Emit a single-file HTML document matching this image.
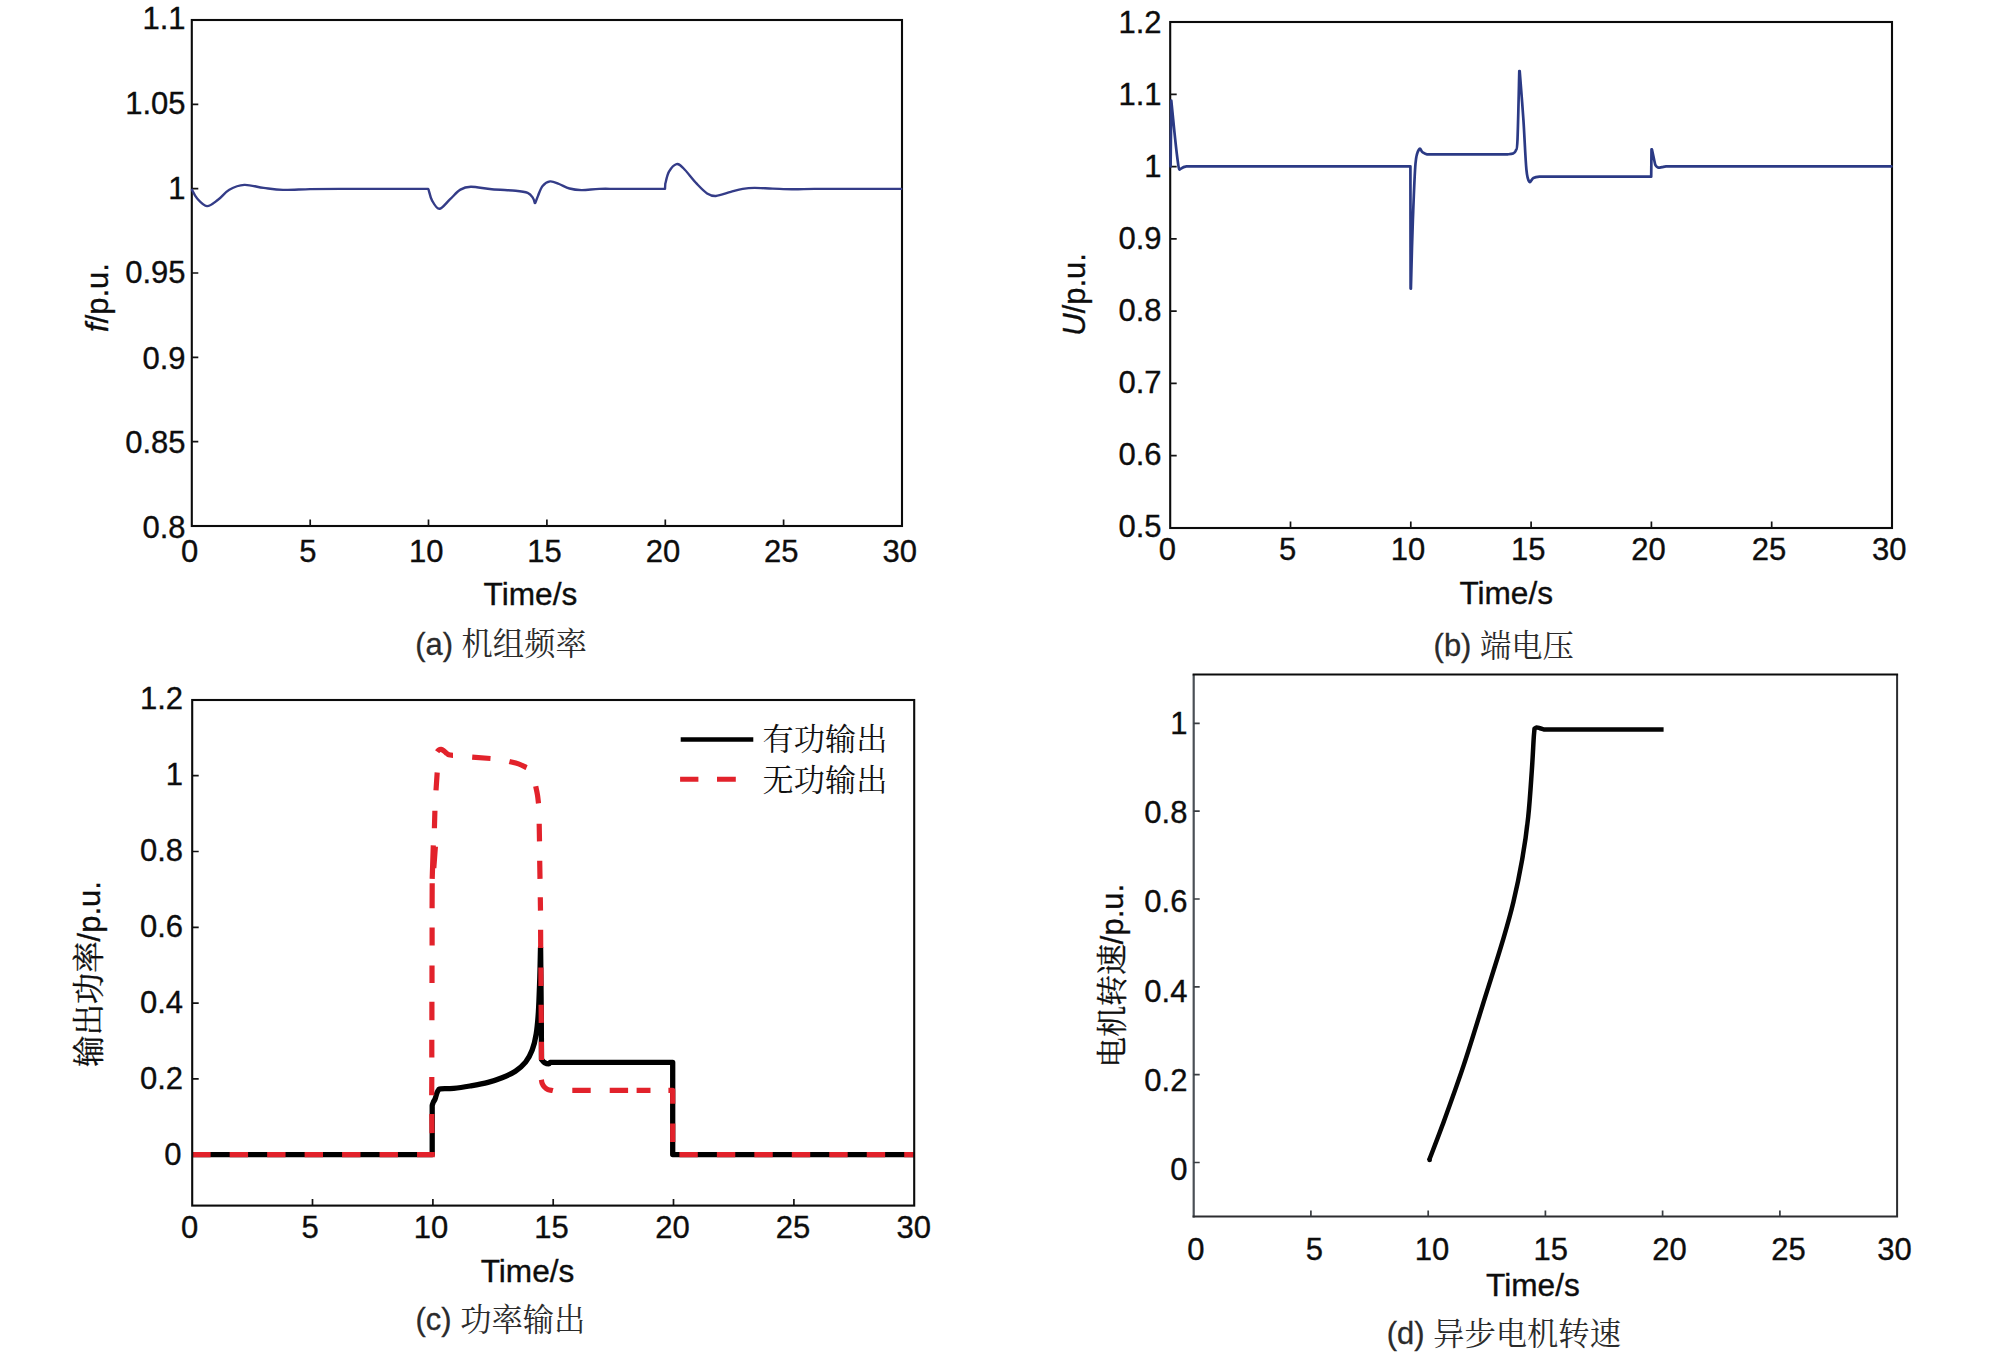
<!DOCTYPE html>
<html lang="zh-CN"><head><meta charset="utf-8"><title>仿真结果</title>
<style>html,body{margin:0;padding:0;background:#fff;}body{width:2006px;height:1355px;overflow:hidden;}svg{display:block;}text{white-space:pre;}</style>
</head><body>
<svg width="2006" height="1355" viewBox="0 0 2006 1355">
<rect width="2006" height="1355" fill="#fff"/>
<g id="chart-a">
<rect x="191.8" y="20" width="710.2" height="506" fill="none" stroke="#0b0b0b" stroke-width="2.1"/>
<path d="M310.2 526 v-6.5 M428.5 526 v-6.5 M546.9 526 v-6.5 M665.3 526 v-6.5 M783.6 526 v-6.5 M191.8 441.7 h6.5 M191.8 357.3 h6.5 M191.8 273 h6.5 M191.8 188.7 h6.5 M191.8 104.3 h6.5" stroke="#141414" stroke-width="1.7" fill="none"/>
<text transform="translate(189.5 561.6) scale(1.0 1)" font-size="31.0" text-anchor="middle" font-family='"Liberation Sans", "Noto Sans CJK SC", sans-serif' fill="#0d0d0d" stroke="#0d0d0d" stroke-width="0.35">0</text>
<text transform="translate(307.9 561.6) scale(1.0 1)" font-size="31.0" text-anchor="middle" font-family='"Liberation Sans", "Noto Sans CJK SC", sans-serif' fill="#0d0d0d" stroke="#0d0d0d" stroke-width="0.35">5</text>
<text transform="translate(426.2 561.6) scale(1.0 1)" font-size="31.0" text-anchor="middle" font-family='"Liberation Sans", "Noto Sans CJK SC", sans-serif' fill="#0d0d0d" stroke="#0d0d0d" stroke-width="0.35">10</text>
<text transform="translate(544.6 561.6) scale(1.0 1)" font-size="31.0" text-anchor="middle" font-family='"Liberation Sans", "Noto Sans CJK SC", sans-serif' fill="#0d0d0d" stroke="#0d0d0d" stroke-width="0.35">15</text>
<text transform="translate(663 561.6) scale(1.0 1)" font-size="31.0" text-anchor="middle" font-family='"Liberation Sans", "Noto Sans CJK SC", sans-serif' fill="#0d0d0d" stroke="#0d0d0d" stroke-width="0.35">20</text>
<text transform="translate(781.3 561.6) scale(1.0 1)" font-size="31.0" text-anchor="middle" font-family='"Liberation Sans", "Noto Sans CJK SC", sans-serif' fill="#0d0d0d" stroke="#0d0d0d" stroke-width="0.35">25</text>
<text transform="translate(899.7 561.6) scale(1.0 1)" font-size="31.0" text-anchor="middle" font-family='"Liberation Sans", "Noto Sans CJK SC", sans-serif' fill="#0d0d0d" stroke="#0d0d0d" stroke-width="0.35">30</text>
<text transform="translate(185.5 538) scale(1.0 1)" font-size="31.0" text-anchor="end" font-family='"Liberation Sans", "Noto Sans CJK SC", sans-serif' fill="#0d0d0d" stroke="#0d0d0d" stroke-width="0.35">0.8</text>
<text transform="translate(185.5 453.3) scale(1.0 1)" font-size="31.0" text-anchor="end" font-family='"Liberation Sans", "Noto Sans CJK SC", sans-serif' fill="#0d0d0d" stroke="#0d0d0d" stroke-width="0.35">0.85</text>
<text transform="translate(185.5 368.5) scale(1.0 1)" font-size="31.0" text-anchor="end" font-family='"Liberation Sans", "Noto Sans CJK SC", sans-serif' fill="#0d0d0d" stroke="#0d0d0d" stroke-width="0.35">0.9</text>
<text transform="translate(185.5 283) scale(1.0 1)" font-size="31.0" text-anchor="end" font-family='"Liberation Sans", "Noto Sans CJK SC", sans-serif' fill="#0d0d0d" stroke="#0d0d0d" stroke-width="0.35">0.95</text>
<text transform="translate(185.5 198.6) scale(1.0 1)" font-size="31.0" text-anchor="end" font-family='"Liberation Sans", "Noto Sans CJK SC", sans-serif' fill="#0d0d0d" stroke="#0d0d0d" stroke-width="0.35">1</text>
<text transform="translate(185.5 114.2) scale(1.0 1)" font-size="31.0" text-anchor="end" font-family='"Liberation Sans", "Noto Sans CJK SC", sans-serif' fill="#0d0d0d" stroke="#0d0d0d" stroke-width="0.35">1.05</text>
<text transform="translate(185.5 29) scale(1.0 1)" font-size="31.0" text-anchor="end" font-family='"Liberation Sans", "Noto Sans CJK SC", sans-serif' fill="#0d0d0d" stroke="#0d0d0d" stroke-width="0.35">1.1</text>
<path d="M192 189.5 C192.8 190.9 194.5 195.3 197 198 C199.5 200.7 203.4 205.6 206.9 205.8 C210.4 206.1 214.3 202.2 218 199.5 C221.7 196.8 224.9 192 229.3 189.5 C233.7 187 238.6 184.9 244.3 184.6 C250 184.3 257.2 186.8 263.7 187.6 C270.1 188.4 275.3 189.4 283 189.6 C290.7 189.8 300.5 189 310 188.8 C319.5 188.6 320.3 188.6 340 188.6 C359.7 188.6 413.5 188.6 428.2 188.6 L428.6 189.5 C429.2 191.2 430.2 196.8 432 200 C433.8 203.2 436.4 208.7 439.4 208.5 C442.4 208.3 446.4 202.3 449.9 199.1 C453.4 195.9 456.9 191.4 460.4 189.3 C463.9 187.2 465.6 186.5 470.8 186.4 C476 186.3 484.3 188.3 491.8 189 C499.3 189.7 509.7 189.8 515.7 190.4 C521.7 191 524.8 191.4 527.7 192.6 C530.6 193.8 531.7 195.9 532.9 197.6 C534.1 199.3 534.5 201.9 534.8 202.8 L535.2 202.8 C535.7 201.6 536.9 198.2 538.1 195.3 C539.3 192.4 540.6 188 542.6 185.6 C544.6 183.2 547.4 181.4 550.1 181.1 C552.9 180.8 555.9 182.5 559.1 183.7 C562.3 184.9 565.8 187.2 569.5 188.2 C573.2 189.2 576.5 189.7 581.5 189.8 C586.5 189.9 593 188.8 599.4 188.6 C605.8 188.4 609.1 188.6 620 188.6 C630.9 188.6 657.5 188.6 665 188.6 L665.3 183.4 C665.9 181.4 667.1 174.7 669 171.4 C670.9 168.2 674.1 164.5 676.5 163.9 C678.9 163.3 679.8 164.4 683.2 167.7 C686.6 170.9 692.7 179.2 696.7 183.4 C700.7 187.6 703.9 191.1 707.1 193.1 C710.3 195.1 711.8 195.9 715.8 195.7 C719.8 195.4 726.3 192.8 730.8 191.6 C735.3 190.4 738.7 189.3 742.7 188.6 C746.7 187.9 749.7 187.6 754.7 187.6 C759.7 187.6 766.4 188.1 772.6 188.3 C778.8 188.5 785 188.9 792 189 C799 189.1 804.8 188.7 814.5 188.6 C824.2 188.5 835.5 188.6 850 188.6 C864.5 188.6 892.7 188.6 901.2 188.6" fill="none" stroke="#343c88" stroke-width="2.4" stroke-linejoin="round" stroke-linecap="round" transform="translate(0 0.3)"/>
<text transform="translate(530.4 605.4) scale(1.02 1)" font-size="31.0" text-anchor="middle" font-family='"Liberation Sans", "Noto Sans CJK SC", sans-serif' fill="#0d0d0d" stroke="#0d0d0d" stroke-width="0.35">Time/s</text>
<text transform="translate(107.6 297.5) scale(1.0 1) rotate(-90)" font-size="31.0" text-anchor="middle" font-family='"Liberation Sans", "Noto Sans CJK SC", sans-serif' fill="#0d0d0d" stroke="#0d0d0d" stroke-width="0.35"><tspan font-style="italic">f</tspan>/p.u.</text>
<text x="415.2" y="654.5" font-size="30.9" font-family='"Liberation Sans", "Noto Sans CJK SC", sans-serif' fill="#2b2b2b"><tspan stroke="#2b2b2b" stroke-width="0.3">(a)</tspan> <tspan font-family='"Liberation Serif", "Noto Serif CJK SC", serif' font-size="31.3" dy="0.6">机组频率</tspan></text>
</g>
<g id="chart-b">
<rect x="1170.2" y="22" width="721.8" height="506" fill="none" stroke="#0b0b0b" stroke-width="2.1"/>
<path d="M1290.5 528 v-6.5 M1410.8 528 v-6.5 M1531.1 528 v-6.5 M1651.4 528 v-6.5 M1771.7 528 v-6.5 M1170.2 455.7 h6.5 M1170.2 383.4 h6.5 M1170.2 311.1 h6.5 M1170.2 238.9 h6.5 M1170.2 166.6 h6.5 M1170.2 94.3 h6.5" stroke="#141414" stroke-width="1.7" fill="none"/>
<text transform="translate(1167.4 559.9) scale(1.0 1)" font-size="31.0" text-anchor="middle" font-family='"Liberation Sans", "Noto Sans CJK SC", sans-serif' fill="#0d0d0d" stroke="#0d0d0d" stroke-width="0.35">0</text>
<text transform="translate(1287.7 559.9) scale(1.0 1)" font-size="31.0" text-anchor="middle" font-family='"Liberation Sans", "Noto Sans CJK SC", sans-serif' fill="#0d0d0d" stroke="#0d0d0d" stroke-width="0.35">5</text>
<text transform="translate(1408 559.9) scale(1.0 1)" font-size="31.0" text-anchor="middle" font-family='"Liberation Sans", "Noto Sans CJK SC", sans-serif' fill="#0d0d0d" stroke="#0d0d0d" stroke-width="0.35">10</text>
<text transform="translate(1528.3 559.9) scale(1.0 1)" font-size="31.0" text-anchor="middle" font-family='"Liberation Sans", "Noto Sans CJK SC", sans-serif' fill="#0d0d0d" stroke="#0d0d0d" stroke-width="0.35">15</text>
<text transform="translate(1648.6 559.9) scale(1.0 1)" font-size="31.0" text-anchor="middle" font-family='"Liberation Sans", "Noto Sans CJK SC", sans-serif' fill="#0d0d0d" stroke="#0d0d0d" stroke-width="0.35">20</text>
<text transform="translate(1768.9 559.9) scale(1.0 1)" font-size="31.0" text-anchor="middle" font-family='"Liberation Sans", "Noto Sans CJK SC", sans-serif' fill="#0d0d0d" stroke="#0d0d0d" stroke-width="0.35">25</text>
<text transform="translate(1889.2 559.9) scale(1.0 1)" font-size="31.0" text-anchor="middle" font-family='"Liberation Sans", "Noto Sans CJK SC", sans-serif' fill="#0d0d0d" stroke="#0d0d0d" stroke-width="0.35">30</text>
<text transform="translate(1161.6 536.8) scale(1.0 1)" font-size="31.0" text-anchor="end" font-family='"Liberation Sans", "Noto Sans CJK SC", sans-serif' fill="#0d0d0d" stroke="#0d0d0d" stroke-width="0.35">0.5</text>
<text transform="translate(1161.6 464.8) scale(1.0 1)" font-size="31.0" text-anchor="end" font-family='"Liberation Sans", "Noto Sans CJK SC", sans-serif' fill="#0d0d0d" stroke="#0d0d0d" stroke-width="0.35">0.6</text>
<text transform="translate(1161.6 392.7) scale(1.0 1)" font-size="31.0" text-anchor="end" font-family='"Liberation Sans", "Noto Sans CJK SC", sans-serif' fill="#0d0d0d" stroke="#0d0d0d" stroke-width="0.35">0.7</text>
<text transform="translate(1161.6 320.7) scale(1.0 1)" font-size="31.0" text-anchor="end" font-family='"Liberation Sans", "Noto Sans CJK SC", sans-serif' fill="#0d0d0d" stroke="#0d0d0d" stroke-width="0.35">0.8</text>
<text transform="translate(1161.6 248.7) scale(1.0 1)" font-size="31.0" text-anchor="end" font-family='"Liberation Sans", "Noto Sans CJK SC", sans-serif' fill="#0d0d0d" stroke="#0d0d0d" stroke-width="0.35">0.9</text>
<text transform="translate(1161.6 176.7) scale(1.0 1)" font-size="31.0" text-anchor="end" font-family='"Liberation Sans", "Noto Sans CJK SC", sans-serif' fill="#0d0d0d" stroke="#0d0d0d" stroke-width="0.35">1</text>
<text transform="translate(1161.6 104.6) scale(1.0 1)" font-size="31.0" text-anchor="end" font-family='"Liberation Sans", "Noto Sans CJK SC", sans-serif' fill="#0d0d0d" stroke="#0d0d0d" stroke-width="0.35">1.1</text>
<text transform="translate(1161.6 32.6) scale(1.0 1)" font-size="31.0" text-anchor="end" font-family='"Liberation Sans", "Noto Sans CJK SC", sans-serif' fill="#0d0d0d" stroke="#0d0d0d" stroke-width="0.35">1.2</text>
<path d="M1170.6 166.5 L1171.3 100.6 C1173.5 122 1175.5 145 1177.6 160 C1178.3 166 1178.8 169 1179.5 169.6 C1181 168.6 1183 166.6 1186.5 166.3 L1410.4 166.3 L1410.6 288.6 L1410.9 288.6 C1411.2 277.1 1412.1 240.2 1412.9 219.3 C1413.7 198.5 1414.5 175.2 1415.5 163.5 C1416.5 151.8 1418 151.1 1419.2 149.2 C1420.4 147.3 1421.2 151.3 1422.5 152.2 C1423.8 153 1424.9 154 1427 154.3 C1429.1 154.7 1433.7 154.3 1435 154.3 L1507.5 154.3 L1507.5 154.3 C1508.4 154.2 1511.6 154.2 1513 153.6 C1514.4 153 1515 152.8 1515.8 150.5 C1516.5 148.2 1516.9 152.8 1517.5 139.6 C1518.1 126.3 1519 82.4 1519.3 71 L1519.7 71 C1520.3 79.1 1522.3 103.3 1523.4 119.7 C1524.5 136.1 1525.4 159.2 1526.4 169.5 C1527.4 179.8 1528.2 180.4 1529.4 181.8 C1530.6 183.2 1531.7 178.8 1533.4 178 C1535.1 177.2 1537.1 176.9 1539.5 176.7 C1541.9 176.5 1546.6 176.7 1548 176.7 L1651.2 176.7 L1651.5 149.4 L1651.9 149.4 C1652.3 151.2 1653.6 157.3 1654.2 160 C1654.8 162.7 1654.9 164.1 1655.6 165.4 C1656.3 166.7 1657.2 167.3 1658.3 167.6 C1659.4 167.9 1660.7 167.3 1662 167.1 C1663.3 166.9 1664.3 166.5 1666 166.4 C1667.7 166.3 1671 166.4 1672 166.4 L1891.4 166.4" fill="none" stroke="#2b3a85" stroke-width="2.7" stroke-linejoin="round" stroke-linecap="round"/>
<text transform="translate(1506.2 603.5) scale(1.02 1)" font-size="31.0" text-anchor="middle" font-family='"Liberation Sans", "Noto Sans CJK SC", sans-serif' fill="#0d0d0d" stroke="#0d0d0d" stroke-width="0.35">Time/s</text>
<text transform="translate(1084.9 294.4) scale(1.0 1) rotate(-90)" font-size="31.0" text-anchor="middle" font-family='"Liberation Sans", "Noto Sans CJK SC", sans-serif' fill="#0d0d0d" stroke="#0d0d0d" stroke-width="0.35"><tspan font-style="italic">U</tspan>/p.u.</text>
<text x="1433.6" y="656.2" font-size="30.9" font-family='"Liberation Sans", "Noto Sans CJK SC", sans-serif' fill="#2b2b2b"><tspan stroke="#2b2b2b" stroke-width="0.3">(b)</tspan> <tspan font-family='"Liberation Serif", "Noto Serif CJK SC", serif' font-size="31.3" dy="0.6">端电压</tspan></text>
</g>
<g id="chart-c">
<path d="M312.5 1205.6 v-6.5 M432.9 1205.6 v-6.5 M553.2 1205.6 v-6.5 M673.5 1205.6 v-6.5 M793.9 1205.6 v-6.5 M192.2 1154.7 h6.5 M192.2 1078.9 h6.5 M192.2 1003.1 h6.5 M192.2 927.3 h6.5 M192.2 851.5 h6.5 M192.2 775.7 h6.5" stroke="#141414" stroke-width="1.7" fill="none"/>
<text transform="translate(189.5 1237.7) scale(1.0 1)" font-size="31.0" text-anchor="middle" font-family='"Liberation Sans", "Noto Sans CJK SC", sans-serif' fill="#0d0d0d" stroke="#0d0d0d" stroke-width="0.35">0</text>
<text transform="translate(310.2 1237.7) scale(1.0 1)" font-size="31.0" text-anchor="middle" font-family='"Liberation Sans", "Noto Sans CJK SC", sans-serif' fill="#0d0d0d" stroke="#0d0d0d" stroke-width="0.35">5</text>
<text transform="translate(430.9 1237.7) scale(1.0 1)" font-size="31.0" text-anchor="middle" font-family='"Liberation Sans", "Noto Sans CJK SC", sans-serif' fill="#0d0d0d" stroke="#0d0d0d" stroke-width="0.35">10</text>
<text transform="translate(551.6 1237.7) scale(1.0 1)" font-size="31.0" text-anchor="middle" font-family='"Liberation Sans", "Noto Sans CJK SC", sans-serif' fill="#0d0d0d" stroke="#0d0d0d" stroke-width="0.35">15</text>
<text transform="translate(672.4 1237.7) scale(1.0 1)" font-size="31.0" text-anchor="middle" font-family='"Liberation Sans", "Noto Sans CJK SC", sans-serif' fill="#0d0d0d" stroke="#0d0d0d" stroke-width="0.35">20</text>
<text transform="translate(793.1 1237.7) scale(1.0 1)" font-size="31.0" text-anchor="middle" font-family='"Liberation Sans", "Noto Sans CJK SC", sans-serif' fill="#0d0d0d" stroke="#0d0d0d" stroke-width="0.35">25</text>
<text transform="translate(913.8 1237.7) scale(1.0 1)" font-size="31.0" text-anchor="middle" font-family='"Liberation Sans", "Noto Sans CJK SC", sans-serif' fill="#0d0d0d" stroke="#0d0d0d" stroke-width="0.35">30</text>
<text transform="translate(181.5 1165.3) scale(1.0 1)" font-size="31.0" text-anchor="end" font-family='"Liberation Sans", "Noto Sans CJK SC", sans-serif' fill="#0d0d0d" stroke="#0d0d0d" stroke-width="0.35">0</text>
<text transform="translate(183 1089.3) scale(1.0 1)" font-size="31.0" text-anchor="end" font-family='"Liberation Sans", "Noto Sans CJK SC", sans-serif' fill="#0d0d0d" stroke="#0d0d0d" stroke-width="0.35">0.2</text>
<text transform="translate(183 1013.2) scale(1.0 1)" font-size="31.0" text-anchor="end" font-family='"Liberation Sans", "Noto Sans CJK SC", sans-serif' fill="#0d0d0d" stroke="#0d0d0d" stroke-width="0.35">0.4</text>
<text transform="translate(183 937.2) scale(1.0 1)" font-size="31.0" text-anchor="end" font-family='"Liberation Sans", "Noto Sans CJK SC", sans-serif' fill="#0d0d0d" stroke="#0d0d0d" stroke-width="0.35">0.6</text>
<text transform="translate(183 861.1) scale(1.0 1)" font-size="31.0" text-anchor="end" font-family='"Liberation Sans", "Noto Sans CJK SC", sans-serif' fill="#0d0d0d" stroke="#0d0d0d" stroke-width="0.35">0.8</text>
<text transform="translate(183 785.1) scale(1.0 1)" font-size="31.0" text-anchor="end" font-family='"Liberation Sans", "Noto Sans CJK SC", sans-serif' fill="#0d0d0d" stroke="#0d0d0d" stroke-width="0.35">1</text>
<text transform="translate(183 709.1) scale(1.0 1)" font-size="31.0" text-anchor="end" font-family='"Liberation Sans", "Noto Sans CJK SC", sans-serif' fill="#0d0d0d" stroke="#0d0d0d" stroke-width="0.35">1.2</text>
<path d="M192.2 1154.6 L432.2 1154.6 L432.2 1105.5 L432.2 1105.5 C432.4 1104.9 432.9 1103.1 433.4 1102 C433.9 1100.9 434.5 1100.6 435.1 1099 C435.7 1097.4 436.5 1094 437.1 1092.5 C437.7 1091 438 1090.4 438.6 1089.8 C439.2 1089.2 438.2 1089 440.7 1088.8 C443.2 1088.6 448.8 1088.9 453.7 1088.4 C458.6 1087.9 464.3 1087 470 1086 C475.7 1085 482.7 1083.8 488 1082.4 C493.3 1081 497.4 1079.7 502 1077.8 C506.6 1075.9 511.5 1073.8 515.4 1071.2 C519.3 1068.6 522.8 1065.7 525.6 1062.2 C528.4 1058.7 530.4 1054.7 532.2 1050 C534 1045.3 535.2 1040.3 536.2 1034 C537.2 1027.7 537.8 1021.3 538.4 1012 C539 1002.7 539.4 988.7 539.8 978 C540.1 967.3 540.4 953 540.5 948 L540.6 948 C540.7 958.3 541.1 991.4 541.2 1010 C541.4 1028.6 541.5 1051.2 541.5 1059.5 L541.5 1059.5 C542 1060 543.3 1061.9 544.5 1062.6 C545.7 1063.3 547.7 1063.9 548.7 1063.9 C549.7 1063.9 549.3 1062.7 550.5 1062.4 C551.7 1062.2 555.1 1062.4 556 1062.4 L672.7 1062.4 L672.7 1154.6 L914.2 1154.6" fill="none" stroke="#000" stroke-width="5.3" stroke-linejoin="round"/>
<path d="M192.2 1154.6 H434.8" fill="none" stroke="#e2222b" stroke-width="5.2" stroke-dasharray="18.4 19.07"/>
<path d="M672.7 1154.6 H914.2" fill="none" stroke="#e2222b" stroke-width="5.2" stroke-dasharray="18.4 19.07" stroke-dashoffset="30.77"/>
<path d="M432 1133.1 L431.8 1114 M431.7 1095.3 L431.8 1077.1 M431.8 1057.5 L431.8 1039.8 M431.9 1020.3 L431.9 1001.7 M432 983.1 L432 965.4 M432.1 945.6 L432.1 927.4 M432.1 908.2 L432.2 883.3 M432.2 878.9 L433.3 845.4 M434.4 828.2 L434.9 810.7 M436 790.4 L437.2 772.5 M435.4 846.5 L433.8 868 M437.2 751.8 C437.4 751.5 438 750.6 438.6 750.2 C439.2 749.8 440.2 749.3 441 749.4 C441.8 749.5 442.7 750 443.5 750.6 C444.3 751.2 445.2 752.2 446 752.8 C446.8 753.4 447.2 753.9 448 754.3 C448.8 754.7 449.7 754.9 450.5 755.1 C451.3 755.3 452.6 755.3 453 755.3 M472.2 757.1 L490.5 758.5 M509.4 761.6 C510.9 762 515.6 762.9 518.5 763.9 C521.4 764.9 525.2 767 526.6 767.6 M535.7 786.2 C536 787.6 536.9 791.6 537.4 794.5 C537.9 797.4 538.3 801.9 538.5 803.4 M539.2 823.7 L539.5 841.4 M539.7 860.7 L540 878.9 M540.3 897.2 L540.5 910.6 M540.6 929.8 L540.7 948 M540.9 967.6 L541 985.9 M541.1 1004.7 L541.3 1022.9 M541.4 1041.8 L541.5 1060 M541.4 1079.8 C541.5 1080.4 541.7 1082.4 542.2 1083.6 C542.7 1084.8 543.4 1086 544.4 1087 C545.4 1088 546.6 1089 548 1089.6 C549.4 1090.2 552.1 1090.3 552.9 1090.5 M572.3 1090.3 H590.7 M609.7 1090.3 H628.1 M636.6 1090.3 H650.5 M668.4 1090.3 H672.7 V1103.7 M672.7 1123.6 V1142.1" fill="none" stroke="#e2222b" stroke-width="5.2" stroke-linejoin="round"/>
<rect x="192.2" y="700" width="722" height="505.6" fill="none" stroke="#0b0b0b" stroke-width="2.1"/>
<path d="M680.7 739.5 H753.3" stroke="#000" stroke-width="4.6" fill="none"/>
<path d="M680.1 779.3 H698.4 M717 779.3 H735.8" stroke="#e2222b" stroke-width="5" fill="none"/>
<text transform="translate(762.6 749.5) scale(1.033 1)" font-size="30.2" text-anchor="start" font-family='"Liberation Serif", "Noto Serif CJK SC", serif' fill="#111">有功输出</text>
<text transform="translate(762.6 790.6) scale(1.033 1)" font-size="30.2" text-anchor="start" font-family='"Liberation Serif", "Noto Serif CJK SC", serif' fill="#111">无功输出</text>
<text transform="translate(527.5 1281.5) scale(1.02 1)" font-size="31.0" text-anchor="middle" font-family='"Liberation Sans", "Noto Sans CJK SC", sans-serif' fill="#0d0d0d" stroke="#0d0d0d" stroke-width="0.35">Time/s</text>
<text transform="translate(99.5 974) scale(1.0 1) rotate(-90)" font-size="31.0" text-anchor="middle" font-family='"Liberation Sans", "Noto Sans CJK SC", sans-serif' fill="#0d0d0d" stroke="#0d0d0d" stroke-width="0.35"><tspan font-family='"Liberation Serif", "Noto Serif CJK SC", serif' font-size="31.4">输出功率</tspan>/p.u.</text>
<text x="415.5" y="1329.9" font-size="30.9" font-family='"Liberation Sans", "Noto Sans CJK SC", sans-serif' fill="#2b2b2b"><tspan stroke="#2b2b2b" stroke-width="0.3">(c)</tspan> <tspan font-family='"Liberation Serif", "Noto Serif CJK SC", serif' font-size="31.3" dy="0.6">功率输出</tspan></text>
</g>
<g id="chart-d">
<path d="M1193.7 674.5 V1217.5" fill="none" stroke="#4a5056" stroke-width="2.2"/>
<path d="M1192.6 1216.5 H1897.1 V674.5" fill="none" stroke="#2c2d30" stroke-width="2"/>
<path d="M1192.6 674.5 H1898.1" fill="none" stroke="#0b0b0b" stroke-width="2.2"/>
<path d="M1310.9 1216.5 v-6 M1428.2 1216.5 v-6 M1545.4 1216.5 v-6 M1662.6 1216.5 v-6 M1779.9 1216.5 v-6 M1193.7 1162.5 h6 M1193.7 1074.7 h6 M1193.7 986.8 h6 M1193.7 899 h6 M1193.7 811.1 h6 M1193.7 723.3 h6" stroke="#3a3e42" stroke-width="1.7" fill="none"/>
<text transform="translate(1195.8 1259.7) scale(1.0 1)" font-size="31.0" text-anchor="middle" font-family='"Liberation Sans", "Noto Sans CJK SC", sans-serif' fill="#0d0d0d" stroke="#0d0d0d" stroke-width="0.35">0</text>
<text transform="translate(1314.3 1259.7) scale(1.0 1)" font-size="31.0" text-anchor="middle" font-family='"Liberation Sans", "Noto Sans CJK SC", sans-serif' fill="#0d0d0d" stroke="#0d0d0d" stroke-width="0.35">5</text>
<text transform="translate(1432.1 1259.7) scale(1.0 1)" font-size="31.0" text-anchor="middle" font-family='"Liberation Sans", "Noto Sans CJK SC", sans-serif' fill="#0d0d0d" stroke="#0d0d0d" stroke-width="0.35">10</text>
<text transform="translate(1550.7 1259.7) scale(1.0 1)" font-size="31.0" text-anchor="middle" font-family='"Liberation Sans", "Noto Sans CJK SC", sans-serif' fill="#0d0d0d" stroke="#0d0d0d" stroke-width="0.35">15</text>
<text transform="translate(1669.5 1259.7) scale(1.0 1)" font-size="31.0" text-anchor="middle" font-family='"Liberation Sans", "Noto Sans CJK SC", sans-serif' fill="#0d0d0d" stroke="#0d0d0d" stroke-width="0.35">20</text>
<text transform="translate(1788.5 1259.7) scale(1.0 1)" font-size="31.0" text-anchor="middle" font-family='"Liberation Sans", "Noto Sans CJK SC", sans-serif' fill="#0d0d0d" stroke="#0d0d0d" stroke-width="0.35">25</text>
<text transform="translate(1894.6 1259.7) scale(1.0 1)" font-size="31.0" text-anchor="middle" font-family='"Liberation Sans", "Noto Sans CJK SC", sans-serif' fill="#0d0d0d" stroke="#0d0d0d" stroke-width="0.35">30</text>
<text transform="translate(1187.4 1180.1) scale(1.0 1)" font-size="31.0" text-anchor="end" font-family='"Liberation Sans", "Noto Sans CJK SC", sans-serif' fill="#0d0d0d" stroke="#0d0d0d" stroke-width="0.35">0</text>
<text transform="translate(1187.4 1090.9) scale(1.0 1)" font-size="31.0" text-anchor="end" font-family='"Liberation Sans", "Noto Sans CJK SC", sans-serif' fill="#0d0d0d" stroke="#0d0d0d" stroke-width="0.35">0.2</text>
<text transform="translate(1187.4 1001.6) scale(1.0 1)" font-size="31.0" text-anchor="end" font-family='"Liberation Sans", "Noto Sans CJK SC", sans-serif' fill="#0d0d0d" stroke="#0d0d0d" stroke-width="0.35">0.4</text>
<text transform="translate(1187.4 912.4) scale(1.0 1)" font-size="31.0" text-anchor="end" font-family='"Liberation Sans", "Noto Sans CJK SC", sans-serif' fill="#0d0d0d" stroke="#0d0d0d" stroke-width="0.35">0.6</text>
<text transform="translate(1187.4 823.1) scale(1.0 1)" font-size="31.0" text-anchor="end" font-family='"Liberation Sans", "Noto Sans CJK SC", sans-serif' fill="#0d0d0d" stroke="#0d0d0d" stroke-width="0.35">0.8</text>
<text transform="translate(1187.4 733.9) scale(1.0 1)" font-size="31.0" text-anchor="end" font-family='"Liberation Sans", "Noto Sans CJK SC", sans-serif' fill="#0d0d0d" stroke="#0d0d0d" stroke-width="0.35">1</text>
<path d="M1429 1160.5 C1431.2 1154.6 1436.7 1141 1442.5 1125.1 C1448.3 1109.2 1456.7 1086.2 1463.8 1064.9 C1470.9 1043.7 1478.5 1018.3 1485 997.6 C1491.5 976.9 1498 956.9 1502.7 940.9 C1507.4 924.9 1510.2 915.5 1513.4 901.9 C1516.7 888.3 1519.7 873.6 1522.2 859.4 C1524.7 845.2 1526.6 831.7 1528.2 816.9 C1529.8 802.1 1530.9 783.6 1531.8 770.8 C1532.7 758 1533.2 746.6 1533.6 740 C1534 733.4 1534.2 732.5 1534.3 731 L1534.5 728.6 C1534.8 728.4 1535.7 727.6 1536.6 727.5 C1537.5 727.4 1538.8 727.9 1540 728.2 C1541.2 728.5 1542.3 729.2 1544 729.4 C1545.7 729.6 1549 729.4 1550 729.4 L1663.6 729.4" fill="none" stroke="#050505" stroke-width="4.5" stroke-linejoin="round"/>
<circle cx="1429.6" cy="1160" r="2.3" fill="#050505"/>
<text transform="translate(1532.9 1295.5) scale(1.02 1)" font-size="31.0" text-anchor="middle" font-family='"Liberation Sans", "Noto Sans CJK SC", sans-serif' fill="#0d0d0d" stroke="#0d0d0d" stroke-width="0.35">Time/s</text>
<text transform="translate(1122.7 975.8) scale(1.0 1) rotate(-90)" font-size="31.0" text-anchor="middle" font-family='"Liberation Sans", "Noto Sans CJK SC", sans-serif' fill="#0d0d0d" stroke="#0d0d0d" stroke-width="0.35"><tspan font-family='"Liberation Serif", "Noto Serif CJK SC", serif' font-size="30.9">电机转速</tspan>/p.u.</text>
<text x="1386.8" y="1344.1" font-size="30.9" font-family='"Liberation Sans", "Noto Sans CJK SC", sans-serif' fill="#2b2b2b"><tspan stroke="#2b2b2b" stroke-width="0.3">(d)</tspan> <tspan font-family='"Liberation Serif", "Noto Serif CJK SC", serif' font-size="31.3" dy="0.6">异步电机转速</tspan></text>
</g>
</svg>
</body></html>
